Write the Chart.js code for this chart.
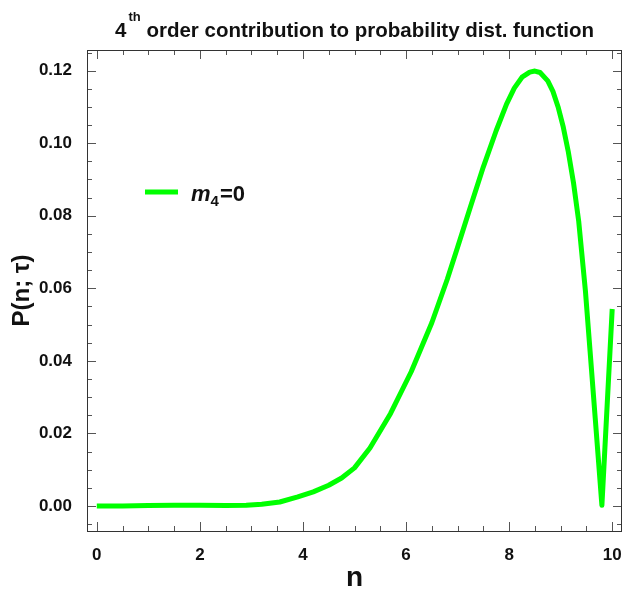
<!DOCTYPE html>
<html>
<head>
<meta charset="utf-8">
<script src="https://cdn.jsdelivr.net/npm/chart.js@4.4.1/dist/chart.umd.min.js"></script>
<style>
  html, body { margin: 0; padding: 0; background: #fff; }
  #wrap { width: 624px; height: 595px; }
</style>
</head>
<body>
<div id="wrap"><canvas id="chart_prob" width="624" height="595"></canvas></div>
<script>
// DATA
const nValues = [0, 0.5, 1.0, 1.5, 2.0, 2.5, 2.9, 3.2, 3.55, 3.9, 4.2, 4.5, 4.75, 5.0, 5.3, 5.7, 6.1, 6.5, 6.8, 7.0, 7.25, 7.5, 7.75, 7.95, 8.1, 8.25, 8.4, 8.5, 8.6, 8.75, 8.85, 8.95, 9.05, 9.15, 9.25, 9.35, 9.48, 9.57, 9.67, 9.8, 10.0];
const pValues = [0, 0, 0.0001, 0.0002, 0.0002, 0.0001, 0.0002, 0.0005, 0.0011, 0.0025, 0.0039, 0.0057, 0.0077, 0.0105, 0.0160, 0.0255, 0.0370, 0.0505, 0.0625, 0.0713, 0.0825, 0.0935, 0.1035, 0.1108, 0.1152, 0.1182, 0.1196, 0.1199, 0.1195, 0.1172, 0.1143, 0.1100, 0.1045, 0.0975, 0.0890, 0.0785, 0.0593, 0.0428, 0.0243, 0.0002, 0.0543];
const xTicks = [0, 2, 4, 6, 8, 10];
const yTicks = [0.00, 0.02, 0.04, 0.06, 0.08, 0.10, 0.12];
const seriesLabel = 'm4=0';

const FONT = "'Liberation Sans', Arial, sans-serif";
const points = nValues.map(function(n, i) { return {x: n, y: pValues[i]}; });

// frame + inward ticks on all four sides
const frameTicks = {
  id: 'frameTicks',
  afterDraw: function(chart) {
    const ctx = chart.ctx;
    const a = chart.chartArea;
    const xs = chart.scales.x, ys = chart.scales.y;
    ctx.save();
    ctx.strokeStyle = '#555';
    ctx.lineWidth = 1;
    ctx.beginPath();
    for (let v = 0; v <= 10.001; v += 0.5) {
      const px = Math.round(xs.getPixelForValue(v)) + 0.5;
      const len = (Math.abs(v / 2 - Math.round(v / 2)) < 1e-6) ? 9 : 5;
      ctx.moveTo(px, a.bottom); ctx.lineTo(px, a.bottom - len);
      ctx.moveTo(px, a.top); ctx.lineTo(px, a.top + len);
    }
    for (let v = -0.005; v <= 0.1251; v += 0.005) {
      const py = Math.round(ys.getPixelForValue(v)) + 0.5;
      const len = (Math.abs(v / 0.02 - Math.round(v / 0.02)) < 1e-6) ? 9 : 5;
      ctx.moveTo(a.left, py); ctx.lineTo(a.left + len, py);
      ctx.moveTo(a.right, py); ctx.lineTo(a.right - len, py);
    }
    ctx.stroke();
    ctx.strokeStyle = '#333';
    ctx.strokeRect(Math.round(a.left) + 0.5, Math.round(a.top) + 0.5, Math.round(a.right - a.left) - 1, Math.round(a.bottom - a.top));
    ctx.restore();
  }
};

// title with superscript
const titlePlugin = {
  id: 'titlePlugin',
  afterDraw: function(chart) {
    const ctx = chart.ctx;
    const a = chart.chartArea;
    const big = 'bold 20.5px ' + FONT, small = 'bold 13px ' + FONT;
    const p1 = '4', p2 = 'th', p3 = ' order contribution to probability dist. function';
    ctx.save();
    ctx.fillStyle = '#111';
    ctx.textBaseline = 'alphabetic';
    ctx.font = big; const w1 = ctx.measureText(p1).width, w3 = ctx.measureText(p3).width;
    ctx.font = small; const w2 = ctx.measureText(p2).width;
    let x = (a.left + a.right) / 2 - (w1 + w2 + w3 + 2) / 2;
    ctx.textAlign = 'left';
    ctx.font = big; ctx.fillText(p1, x, 37); x += w1 + 2;
    ctx.font = small; ctx.fillText(p2, x, 21); x += w2;
    ctx.font = big; ctx.fillText(p3, x, 37);
    ctx.restore();
  }
};

// legend inside the plot, m with subscript 4
const legendPlugin = {
  id: 'legendPlugin',
  afterDraw: function(chart) {
    const ctx = chart.ctx;
    const a = chart.chartArea;
    const lx = a.left + 58, ly = a.top + 142;
    ctx.save();
    ctx.strokeStyle = '#00ff00';
    ctx.lineWidth = 5;
    ctx.beginPath(); ctx.moveTo(lx, ly); ctx.lineTo(lx + 33, ly); ctx.stroke();
    ctx.fillStyle = '#111';
    ctx.textBaseline = 'alphabetic';
    let x = lx + 46;
    ctx.font = 'italic bold 22px ' + FONT; ctx.fillText('m', x, ly + 9); x += ctx.measureText('m').width;
    ctx.font = 'bold 15px ' + FONT; ctx.fillText('4', x, ly + 14); x += ctx.measureText('4').width + 1;
    ctx.font = 'bold 22px ' + FONT; ctx.fillText('=0', x, ly + 9);
    ctx.restore();
  }
};

const ctx_prob = document.getElementById('chart_prob');

const chart_prob = new Chart(ctx_prob, {
  type: 'line',
  data: {
    datasets: [{
      label: seriesLabel,
      data: points,
      borderColor: '#00ff00',
      borderWidth: 5,
      borderJoinStyle: 'round',
      pointRadius: 0,
      tension: 0,
      fill: false
    }]
  },
  options: {
    responsive: false,
    animation: false,
    layout: { padding: { top: 50, right: 2, left: 0, bottom: 0 } },
    plugins: {
      legend: { display: false },
      tooltip: { enabled: false }
    },
    scales: {
      x: {
        type: 'linear',
        min: -0.19,
        max: 10.19,
        afterFit: function(s) { s.height = 64; s.paddingLeft = 0; s.paddingRight = 0; },
        afterBuildTicks: function(s) { s.ticks = xTicks.map(function(v) { return {value: v}; }); },
        grid: { display: false },
        border: { display: false },
        ticks: {
          padding: 6,
          color: '#111',
          font: { family: FONT, size: 17, weight: 'bold' },
          maxRotation: 0,
          callback: function(v) { return String(v); }
        },
        title: {
          display: true,
          text: 'n',
          color: '#111',
          padding: { top: 0, bottom: 0 },
          font: { family: FONT, size: 28, weight: 'bold' }
        }
      },
      y: {
        min: -0.0069,
        max: 0.1257,
        afterFit: function(s) { s.width = 87; s.paddingTop = 0; s.paddingBottom = 0; },
        afterBuildTicks: function(s) { s.ticks = yTicks.map(function(v) { return {value: v}; }); },
        grid: { display: false },
        border: { display: false },
        ticks: {
          padding: 7,
          color: '#111',
          font: { family: FONT, size: 17, weight: 'bold' },
          callback: function(v) { return v.toFixed(2); }
        },
        title: {
          display: true,
          text: 'P(n; τ)',
          color: '#111',
          padding: { top: 8, bottom: 0 },
          font: { family: FONT, size: 24, weight: 'bold' }
        }
      }
    }
  },
  plugins: [frameTicks, titlePlugin, legendPlugin]
});
</script>
</body>
</html>
